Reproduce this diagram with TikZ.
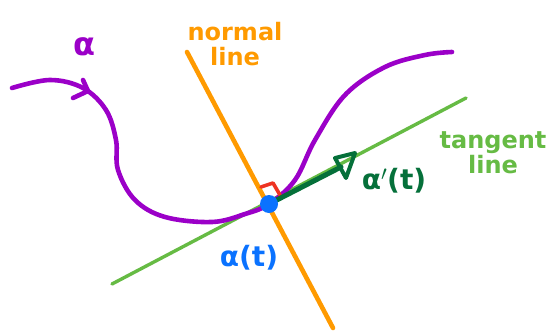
\documentclass[tikz,border=0pt]{standalone}
\usepackage{fontspec}
\setmainfont{DejaVu Sans}
\definecolor{cpurple}{HTML}{9B00C8}
\definecolor{corange}{HTML}{FF9A00}
\definecolor{cgreen}{HTML}{66BB44}
\definecolor{cdgreen}{HTML}{05703A}
\definecolor{cblue}{HTML}{0A72FF}
\definecolor{cred}{HTML}{EE3322}
\tikzset{
  lbl/.style={font=\fontsize{24}{25}\selectfont\bfseries, align=center, inner sep=0pt},
  biglbl/.style={font=\fontsize{28}{28}\selectfont\bfseries, inner sep=0pt},
  curvestyle/.style={cpurple, line width=4.6pt, line cap=round, line join=round},
  vecstyle/.style={cdgreen, line width=5pt, line cap=round, line join=round},
}
\begin{document}
\begin{tikzpicture}[x=1pt,y=-1pt]
\useasboundingbox (0,0) rectangle (553,332);
\coordinate (P) at (269,204);
\coordinate (tA) at (112,284);
\coordinate (tB) at (466,98);
\coordinate (nA) at (187,52);
\coordinate (nB) at (333,328);
\coordinate (vbase) at (341,167);
\coordinate (h1) at (335,158);
\coordinate (h2) at (355,153);
\coordinate (h3) at (346,178);
% tangent line
\draw[cgreen, line width=3.4pt, line cap=round] (tA) -- (tB);
% normal line
\draw[corange, line width=4.6pt, line cap=round] (nA) -- (nB);
% curve alpha
\draw[curvestyle] plot[smooth, tension=0.6] coordinates {(12,88) (50,80) (83,88) (106,110) (116,140) (118,170) (135,200) (165,217) (212,222) (245,214) (269,204) (295,180) (315,140) (345,95) (385,67) (425,55) (452,52)};
% direction tick on curve
\draw[curvestyle] (83,80) -- (88,91) -- (73,98);
% right-angle mark
\draw[cred, line width=3.6pt, line cap=round, line join=round] (261,187) -- (273,183) -- (280,195);
% tangent vector
\draw[vecstyle] (P) -- (vbase);
\draw[vecstyle, line width=4pt] (h1) -- (h2) -- (h3) -- cycle;
% point
\fill[cblue] (P) circle (9pt);
% labels
\node[lbl, cpurple, font=\fontsize{32}{32}\selectfont\bfseries] (alab) at (84,47) {α};
\node[lbl, corange] (nlab) at (235,44) {normal\\line};
\node[lbl, cgreen] (tlab) at (493,153) {tangent\\line};
\node[biglbl, cblue] (plab) at (249,258) {α(t)};
\node[biglbl, cdgreen] (vlab) at (394,181) {α$'$(t)};
\end{tikzpicture}
\end{document}
